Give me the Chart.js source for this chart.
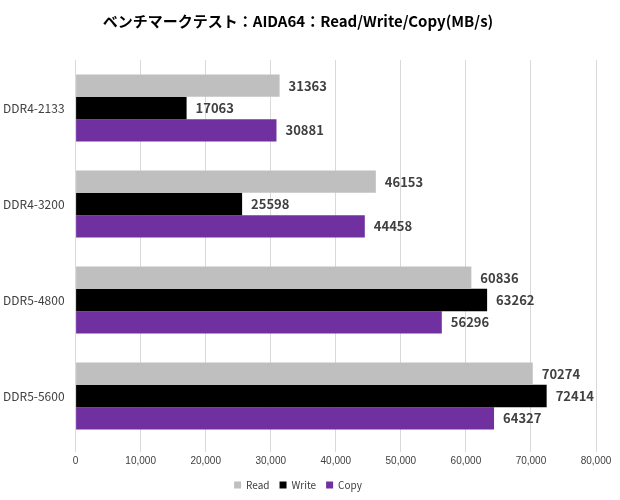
<!DOCTYPE html>
<html><head><meta charset="utf-8">
<script src="https://cdn.jsdelivr.net/npm/chart.js@4/dist/chart.umd.min.js"></script>
<style>body{margin:0;background:#fff}</style>
</head><body><canvas id="c" width="620" height="500"></canvas>
<script>
const categories=["DDR4-2133","DDR4-3200","DDR5-4800","DDR5-5600"];
const readVals=[31363,46153,60836,70274];
const writeVals=[17063,25598,63262,72414];
const copyVals=[30881,44458,56296,64327];
const seriesNames=["Read","Write","Copy"];
const labelPlugin={id:'lbl',afterDatasetsDraw(ch){const ctx=ch.ctx;ctx.save();ctx.font='bold 13px "Noto Sans CJK JP", sans-serif';ctx.fillStyle='#404040';ctx.textBaseline='middle';
ch.data.datasets.forEach((d,i)=>{ch.getDatasetMeta(i).data.forEach((b,j)=>{ctx.fillText(d.data[j],b.x+9,b.y);});});ctx.restore();}};
new Chart(document.getElementById('c'),{type:'bar',
data:{labels:categories,datasets:[
{label:seriesNames[0],data:readVals,backgroundColor:'#bfbfbf'},
{label:seriesNames[1],data:writeVals,backgroundColor:'#000000'},
{label:seriesNames[2],data:copyVals,backgroundColor:'#7030a0'}]},
options:{indexAxis:'y',responsive:false,animation:false,devicePixelRatio:1,
layout:{padding:{left:0,right:24,top:4,bottom:0}},
datasets:{bar:{categoryPercentage:0.7,barPercentage:1}},
plugins:{title:{display:true,text:'ベンチマークテスト：AIDA64：Read/Write/Copy(MB/s)',color:'#000',font:{size:15,weight:'bold',family:'"Noto Sans CJK JP", sans-serif'},padding:{top:8,bottom:30}},
legend:{position:'bottom',labels:{boxWidth:7,boxHeight:7,color:'#404040',font:{size:10,family:'"Noto Sans CJK JP", sans-serif'}}},tooltip:{enabled:false}},
scales:{x:{min:0,max:80000,ticks:{stepSize:10000,color:'#404040',font:{size:10}},grid:{color:'#d9d9d9'},border:{display:false}},
y:{ticks:{color:'#404040',font:{size:12,family:'"Noto Sans CJK JP", sans-serif'}},grid:{display:false},border:{color:'#d9d9d9'}}}},
plugins:[labelPlugin]});
</script>
</body></html>
